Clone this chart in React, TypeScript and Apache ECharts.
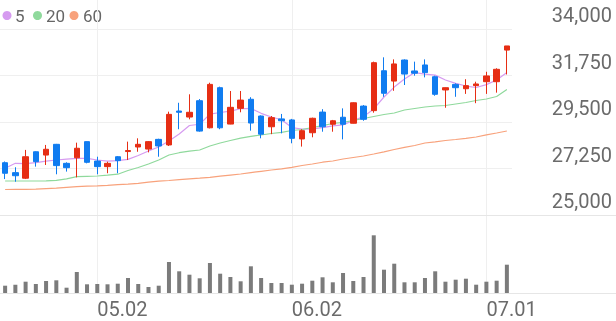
import React, { useEffect, useRef } from "react";
import * as echarts from "echarts";

const dates = [
  "04.18", "04.19", "04.22", "04.23", "04.24", "04.25", "04.26", "04.29", "04.30", "05.02",
  "05.03", "05.07", "05.08", "05.09", "05.10", "05.13", "05.14", "05.16", "05.17", "05.20",
  "05.21", "05.22", "05.23", "05.24", "05.27", "05.28", "05.29", "05.30", "06.02", "06.03",
  "06.04", "06.05", "06.07", "06.10", "06.11", "06.12", "06.13", "06.14", "06.17", "06.18",
  "06.19", "06.20", "06.21", "06.24", "06.25", "06.26", "06.27", "07.01", "07.02", "07.03",
];
const labelDates = ["05.02", "06.02", "07.01"];

const opens = [
  27530, 27050, 26780, 28060, 27900, 28420, 27500, 27770, 28550, 27610,
  27340, 27820, 28070, 28290, 28190, 28660, 28390, 30030, 29740, 30530,
  29220, 31160, 29400, 30160, 30600, 29790, 29270, 29650, 29600, 28680,
  28980, 29980, 29390, 29730, 29440, 30270, 30050, 31980, 31480, 32500,
  31970, 32260, 31690, 31050, 31320, 31110, 31260, 31450, 31450, 32980,
];
const closes = [
  27020, 26900, 27820, 27580, 28180, 27390, 27290, 28230, 27550, 27340,
  27500, 27630, 28120, 28420, 28550, 28340, 29870, 29970, 29970, 29060,
  31320, 29220, 30210, 30560, 29450, 28910, 29710, 29560, 28710, 29080,
  29680, 29270, 29560, 29390, 30430, 29630, 32370, 30890, 32310, 31820,
  31860, 31890, 30840, 31160, 31160, 31260, 31340, 31730, 32050, 33180,
];
const lows = [
  26740, 26610, 26740, 27340, 27420, 26970, 27100, 26820, 27500, 26970,
  27020, 27020, 27660, 28060, 28030, 27820, 28340, 29150, 29630, 29030,
  29190, 29150, 29390, 29970, 29080, 28710, 28910, 28950, 28470, 28310,
  28760, 29030, 29030, 28660, 29430, 29560, 29950, 30720, 31010, 31290,
  31740, 31660, 30770, 30190, 30720, 30860, 30410, 30860, 30920, 31800,
];
const highs = [
  27590, 27310, 28150, 28080, 28390, 28440, 27550, 28500, 28560, 27820,
  27580, 27850, 28550, 28710, 28580, 28690, 30000, 30430, 30840, 30610,
  31400, 31210, 31000, 31000, 30700, 29820, 29790, 29890, 29650, 29150,
  29710, 30120, 29600, 30160, 30450, 30320, 32420, 32630, 32530, 32530,
  32420, 32530, 31740, 31170, 31370, 31570, 31450, 31930, 32100, 33180,
];
const volumes = [
  73, 83, 113, 90, 120, 127, 53, 210, 87, 90,
  87, 93, 150, 90, 60, 73, 310, 217, 183, 147,
  300, 193, 160, 117, 267, 150, 100, 100, 83, 93,
  123, 157, 107, 200, 120, 160, 577, 233, 293, 107,
  107, 150, 217, 113, 133, 143, 83, 113, 123, 283,
];
const ma5 = [
  27260, 27500, 27490, 27530, 27610, 27660, 27700, 27740, 27740, 27660,
  27610, 27630, 27690, 27880, 28100, 28290, 28580, 28920, 29330, 29390,
  29880, 29960, 30030, 30140, 30160, 29920, 29740, 29610, 29230, 29160,
  29170, 29230, 29310, 29360, 29570, 29760, 30130, 30710, 31190, 31580,
  31890, 31820, 31770, 31530, 31370, 31240, 31170, 31310, 31530, 31900,
];
const ma20 = [
  26645, 26645, 26645, 26645, 26654, 26679, 26751, 26853, 26872, 26887,
  26925, 26974, 27153, 27298, 27467, 27661, 27903, 28014, 28087, 28145,
  28338, 28484, 28605, 28716, 28808, 28871, 28943, 29001, 29088, 29137,
  29234, 29321, 29427, 29485, 29572, 29669, 29766, 29863, 29935, 30080,
  30153, 30226, 30274, 30298, 30371, 30443, 30540, 30613, 30734, 31072,
];
const ma60 = [
  26233, 26238, 26243, 26248, 26272, 26296, 26335, 26374, 26393, 26412,
  26437, 26471, 26490, 26533, 26587, 26635, 26669, 26713, 26751, 26780,
  26824, 26877, 26930, 26983, 27051, 27114, 27177, 27235, 27308, 27395,
  27467, 27554, 27613, 27709, 27782, 27854, 27951, 28058, 28169, 28275,
  28363, 28484, 28542, 28605, 28653, 28711, 28774, 28880, 28967, 29064,
];

const UP = "#e62e14";
const DOWN = "#107cf0";
const C5 = "#d69bf0";
const C20 = "#8fd99c";
const C60 = "#f8a27c";

export default function App() {
  const ref = useRef<HTMLDivElement>(null);
  useEffect(() => {
    const chart = echarts.init(ref.current!, null, { renderer: "svg" });
    const showIdx = (_i: number, v: string) => labelDates.includes(v);
    const lineSeries = (name: string, data: number[], color: string) => ({
      name,
      type: "line",
      xAxisIndex: 0,
      yAxisIndex: 0,
      data,
      symbol: "none",
      smooth: false,
      lineStyle: { color, width: 1.2 },
      itemStyle: { color },
      z: 3,
    });
    chart.setOption({
      animation: false,
      grid: [
        { left: 0, width: 512, top: 29, height: 186 },
        { left: 0, width: 512, top: 233, height: 60 },
        { left: 5.12, width: 501.76, top: 0, height: 293 },
      ],
      xAxis: [
        {
          type: "category", gridIndex: 0, data: dates, boundaryGap: true,
          axisLine: { show: false }, axisTick: { show: false },
          axisLabel: { show: false }, splitLine: { show: false },
        },
        {
          type: "category", gridIndex: 1, data: dates, boundaryGap: true,
          axisLine: { show: false }, axisTick: { show: false },
          splitLine: { show: false },
          axisLabel: {
            show: true, interval: showIdx, align: "left", margin: 6,
            color: "#6b6b6b", fontSize: 20, fontFamily: "Roboto",
          },
        },
        {
          type: "category", gridIndex: 2, data: dates, boundaryGap: false,
          axisLine: { show: false }, axisTick: { show: false },
          axisLabel: { show: false },
          splitLine: { show: true, interval: showIdx, lineStyle: { color: "#efefef", width: 1 } },
        },
      ],
      yAxis: [
        {
          type: "value", gridIndex: 0, position: "right",
          min: 25000, max: 34000, interval: 2250,
          axisLine: { show: false }, axisTick: { show: false },
          splitLine: { show: true, lineStyle: { color: "#efefef", width: 1 } },
          axisLabel: {
            align: "right", margin: 100, verticalAlign: "bottom", padding: [0, 0, 4, 0],
            color: "#6b6b6b", fontSize: 20, fontFamily: "Roboto",
            formatter: (v: number) => v.toLocaleString("en-US"),
          },
        },
        { type: "value", gridIndex: 1, min: 0, max: 600, show: false, splitLine: { show: false } },
        { type: "value", gridIndex: 2, show: false, splitLine: { show: false } },
      ],
      series: [
        {
          type: "candlestick",
          xAxisIndex: 0,
          yAxisIndex: 0,
          barWidth: 6,
          data: dates.map((_, i) => [opens[i], closes[i], lows[i], highs[i]]),
          itemStyle: {
            color: UP, color0: DOWN, borderColor: UP, borderColor0: DOWN, borderWidth: 1,
          },
          z: 4,
        },
        lineSeries("5", ma5, C5),
        lineSeries("20", ma20, C20),
        lineSeries("60", ma60, C60),
        {
          type: "bar",
          xAxisIndex: 1,
          yAxisIndex: 1,
          data: volumes,
          barWidth: 4,
          itemStyle: { color: "#7b7b7b" },
        },
      ],
      graphic: [
        { type: "line", shape: { x1: 0, y1: 215.5, x2: 616, y2: 215.5 }, style: { stroke: "#e6e6e6", lineWidth: 1 }, z: 1 },
        { type: "line", shape: { x1: 0, y1: 293.5, x2: 616, y2: 293.5 }, style: { stroke: "#e6e6e6", lineWidth: 1 }, z: 1 },
        { type: "circle", shape: { cx: 7, cy: 15.5, r: 4.5 }, style: { fill: C5 } },
        { type: "text", x: 15, y: 15.5, style: { text: "5", fill: "#666", fontSize: 17, fontFamily: "Roboto", verticalAlign: "middle" } },
        { type: "circle", shape: { cx: 37.5, cy: 15.5, r: 4.5 }, style: { fill: C20 } },
        { type: "text", x: 46, y: 15.5, style: { text: "20", fill: "#666", fontSize: 17, fontFamily: "Roboto", verticalAlign: "middle" } },
        { type: "circle", shape: { cx: 74, cy: 15.5, r: 4.5 }, style: { fill: C60 } },
        { type: "text", x: 83, y: 15.5, style: { text: "60", fill: "#666", fontSize: 17, fontFamily: "Roboto", verticalAlign: "middle" } },
      ],
    });
    return () => chart.dispose();
  }, []);
  return (
    <div
      ref={ref}
      style={{ position: "fixed", left: 0, top: 0, width: 616, height: 321 }}
    />
  );
}
